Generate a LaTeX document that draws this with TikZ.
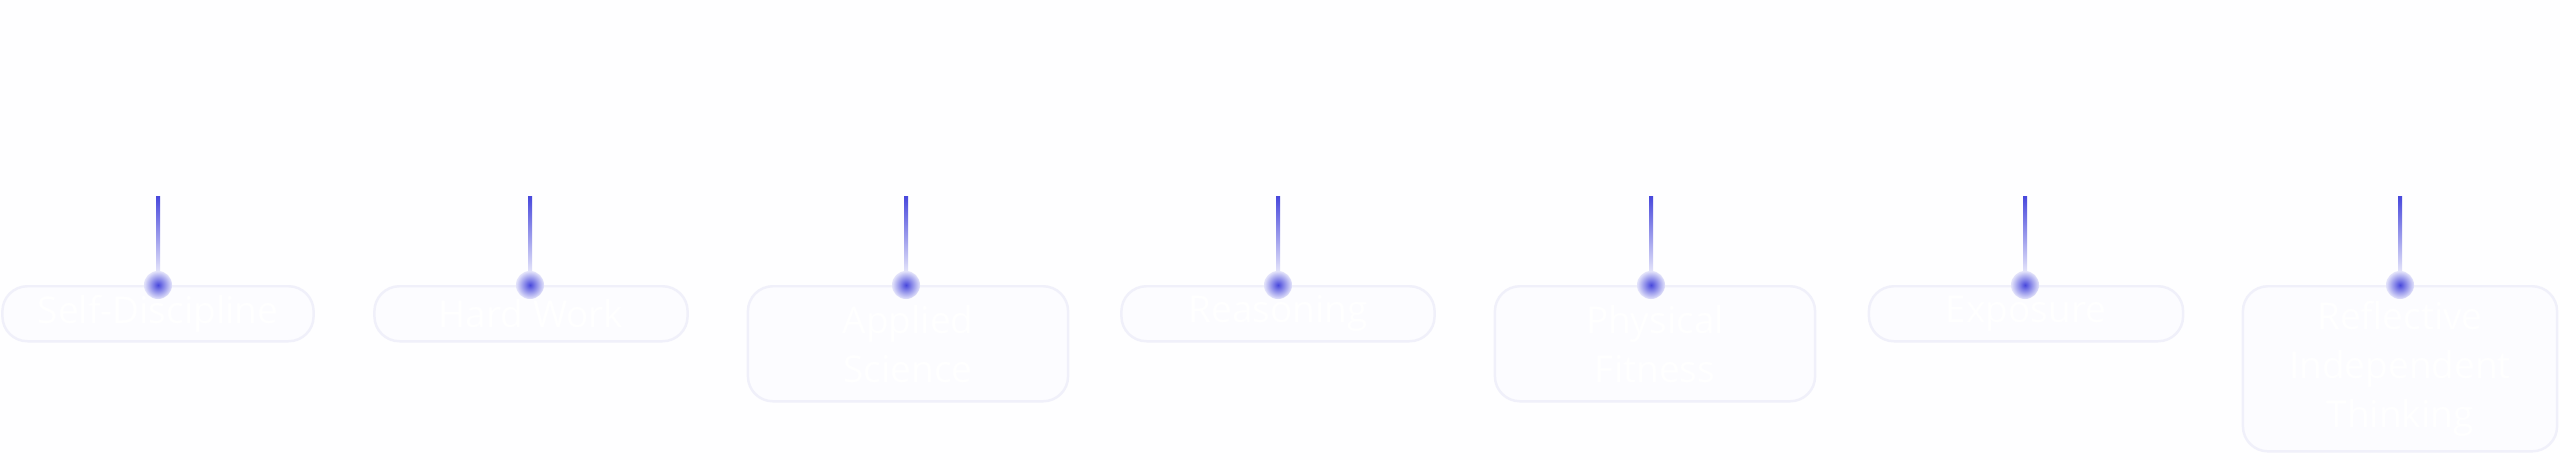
\documentclass[tikz,border=0pt]{standalone}
\usepackage{fontspec}
\setmainfont{Open Sans}
\definecolor{pageback}{HTML}{FEFEFF}
\definecolor{cardfill}{HTML}{FCFCFF}
\definecolor{cardline}{HTML}{F0F0FA}
\definecolor{pinblue}{HTML}{4848DC}
\definecolor{pinfade}{HTML}{E4E4FA}
\tikzset{
  card/.style={draw=cardline,line width=0.7pt,fill=cardfill,rounded corners=0.25cm,
    inner sep=0pt,anchor=north,text=white,align=center,
    font=\fontsize{10.5}{14}\selectfont},
  pin/.style={circle,inner sep=0pt,minimum size=0.28cm,shading=radial,
    inner color=pinblue,outer color=pinfade},
}
\begin{document}
\begin{tikzpicture}[x=0.01cm,y=-0.01cm]
		\fill[pageback] (0,0) rectangle (2560,460);
		\useasboundingbox (0,0) rectangle (2560,460);
		% cards
		\node[card,minimum width=3.11cm,minimum height=0.55cm] (c1) at (158,285) {Self-Discipline};
		\node[card,minimum width=3.13cm,minimum height=0.55cm] (c2) at (531,285) {Hard Work};
		\node[card,minimum width=3.20cm,minimum height=1.15cm] (c3) at (908,285) {Applied\\Science};
		\node[card,minimum width=3.13cm,minimum height=0.55cm] (c4) at (1278,285) {Reasoning};
		\node[card,minimum width=3.20cm,minimum height=1.15cm] (c5) at (1655,285) {Physical\\Fitness};
		\node[card,minimum width=3.14cm,minimum height=0.55cm] (c6) at (2026,285) {Exposure};
		\node[card,minimum width=3.14cm,minimum height=1.65cm] (c7) at (2400,285) {Reflective\\Independent\\Thinking};
		% pins
		\foreach \i/\x in {1/158,2/530,3/906,4/1278,5/1651,6/2025,7/2400}{
			\coordinate (t\i) at (\x,196);
			\shade[top color=pinblue,bottom color=pinfade] (\x-2,196) rectangle (\x+2,272);
			\node[pin] (p\i) at (\x,285) {};
		}
\end{tikzpicture}
\end{document}
